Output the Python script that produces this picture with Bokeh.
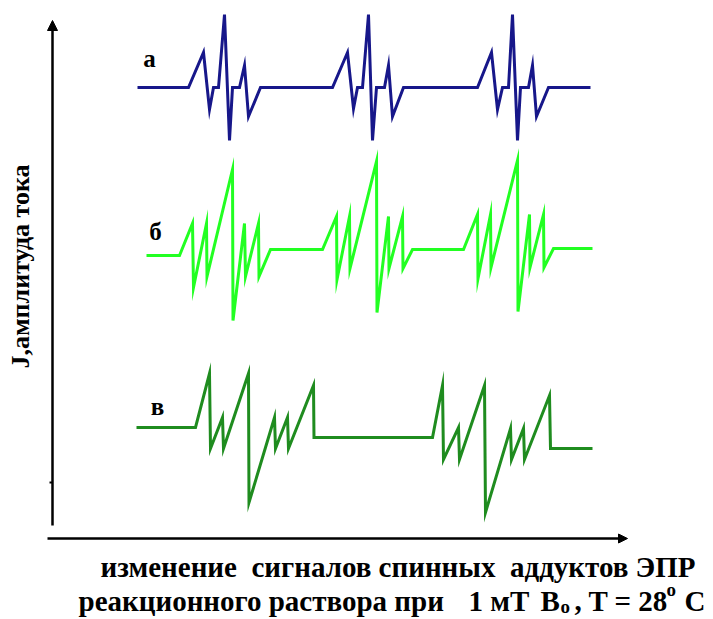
import math
from bokeh.plotting import figure
from bokeh.models import Range1d, Arrow, NormalHead
from bokeh.core.properties import value
from bokeh.embed import file_html
from bokeh.resources import INLINE

# ---- data (x: field position, amp: signal amplitude relative to each trace's baseline) ----
a_x = [137, 188, 203, 209, 213, 218, 224, 229, 232, 239, 244, 248, 260,
       332, 347, 353, 357, 362, 368, 372, 376, 384, 388, 392, 403,
       477, 491, 497, 502, 508, 512, 517, 520, 528, 532, 536, 548, 590]
a_amp = [0, 0, 35, -22, 0, 0, 73, -53, 0, 0, 22, -29, 0,
         0, 35, -21, 0, 0, 73, -53, 0, 0, 22, -29, 0,
         0, 35, -22, 0, 0, 73, -53, 0, 0, 22, -29, 0, 0]

b_x = [146, 179, 192, 193, 206, 206.5, 232, 232.5, 244, 245, 258, 258.5, 270, 322,
       336, 336.5, 349, 349.5, 376, 376.5, 388, 388.5, 402, 402.5, 412, 463,
       477, 477.5, 490, 490.5, 517, 517.5, 529, 529.5, 543, 543.5, 553, 592]
b_amp = [0, 0, 32, -32, 32, -21, 86, -65, 32, -21, 32, -21, 6, 6,
         39, -24, 39, -13, 94, -57, 39, -13, 39, -13, 6, 6,
         41, -23, 41, -12, 95, -56, 41, -12, 41, -12, 7, 7]

c_x = [136, 195, 209, 210, 222, 223, 248, 248.5, 274, 275, 287, 288, 313, 313.5, 432,
       442, 443, 458, 459, 484, 485, 510, 511, 523, 524, 549, 550, 592]
c_amp = [0, 0, 54, -21, 10, -21, 54, -75, 10, -21, 10, -21, 42, -10, -10,
         42, -32, 0, -32, 42, -85, -1, -32, -1, -32, 32, -21, -21]

trace_labels = ["а", "б", "в"]
y_label = "J,амплитуда тока"
x_label_1 = "изменение\u00a0 сигналов спинных\u00a0 аддуктов ЭПР"
x_label_2 = ["реакционного раствора при", "1 мТ", "B", "o", ",", "T = 28", "o", "C"]

# ---- layout / style ----
W, H = 713, 619
TOP = H  # picture rows are converted to y values as TOP - row
base = {"а": TOP - 87, "б": TOP - 255, "в": TOP - 427}
colors = {"а": "#17178a", "б": "#22ff22", "в": "#1f8c1f"}
FONT = value("Liberation Serif")

p = figure(width=W, height=H, output_backend="svg", toolbar_location=None,
           x_range=Range1d(0, W), y_range=Range1d(0, H),
           x_axis_type=None, y_axis_type=None, min_border=0)
p.outline_line_color = None
p.grid.visible = False
p.background_fill_color = "white"
p.border_fill_color = "white"

for key, xs, amps in (("а", a_x, a_amp), ("б", b_x, b_amp), ("в", c_x, c_amp)):
    ys = [base[key] + v for v in amps]
    p.line(xs, ys, line_color=colors[key], line_width=3, line_join="miter")

# axes drawn as arrows
p.add_layout(Arrow(x_start=52, y_start=TOP - 525, x_end=52, y_end=TOP - 20,
                   line_width=2.5, line_color="black",
                   end=NormalHead(size=10, fill_color="black", line_color="black")))
p.add_layout(Arrow(x_start=47, y_start=TOP - 538, x_end=627, y_end=TOP - 538,
                   line_width=2.5, line_color="black",
                   end=NormalHead(size=9, fill_color="black", line_color="black")))
p.segment(x0=[49], y0=[TOP - 482], x1=[52], y1=[TOP - 482], line_color="black", line_width=2)

# trace labels
p.text(x=[149, 155, 157], y=[TOP - 58, TOP - 231, TOP - 406], text=trace_labels,
       text_font=FONT, text_font_style="bold", text_font_size="25px",
       text_align="center", text_baseline="alphabetic", text_color="black")

# y-axis label
p.text(x=[20], y=[TOP - 266], text=[y_label], angle=math.pi / 2,
       text_font=FONT, text_font_style="bold", text_font_size="26px",
       text_align="center", text_baseline="middle", text_color="black")

# x-axis label line 1
p.text(x=[100], y=[TOP - 566], text=[x_label_1],
       text_font=FONT, text_font_style="bold", text_font_size="29px",
       text_align="left", text_baseline="alphabetic", text_color="black")

# x-axis label line 2 (pieces, with sub/superscripts)
xs2 = [78, 468, 540, 560, 574, 588, 666, 684]
ys2 = [TOP - 600, TOP - 600, TOP - 600, TOP - 606, TOP - 600, TOP - 600, TOP - 589, TOP - 600]
sizes = ["29px", "29px", "29px", "19px", "29px", "29px", "19px", "29px"]
for t, x, y, s in zip(x_label_2, xs2, ys2, sizes):
    p.text(x=[x], y=[y], text=[t], text_font=FONT, text_font_style="bold",
           text_font_size=s, text_align="left", text_baseline="alphabetic",
           text_color="black")

open("out.html", "w").write(file_html(p, INLINE))
